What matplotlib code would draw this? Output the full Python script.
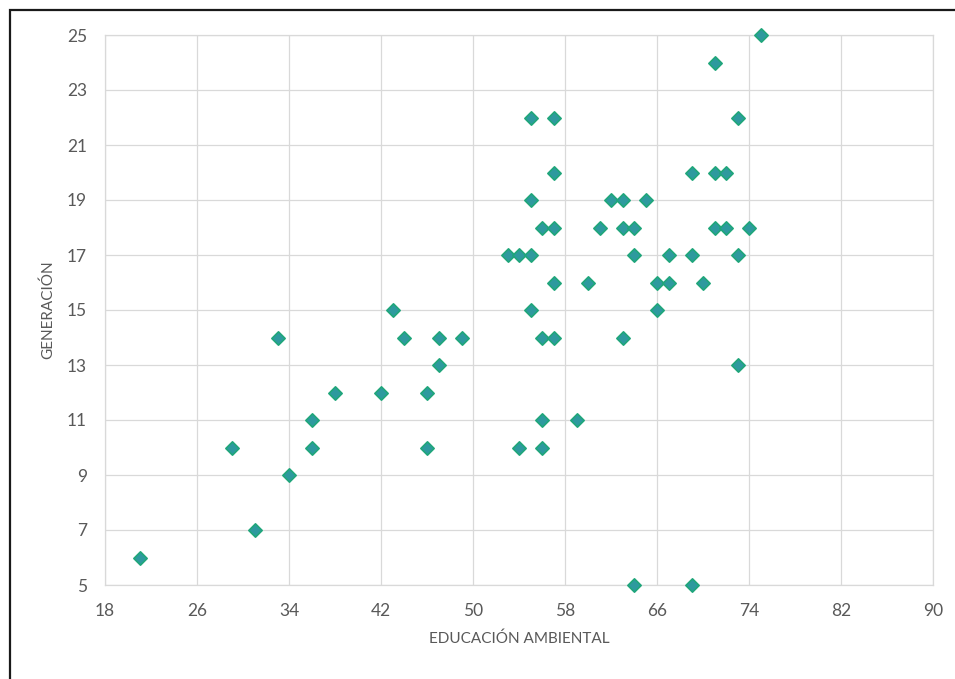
import matplotlib
matplotlib.use("Agg")
import matplotlib.pyplot as plt
from matplotlib.patches import Rectangle

# EDUCACIÓN AMBIENTAL (x) vs GENERACIÓN (y)
educacion = [75, 71, 55, 57, 73, 57, 69, 71, 72, 55, 62, 63, 65,
             56, 57, 61, 63, 64, 71, 72, 74, 53, 54, 55, 64, 67, 69, 73,
             57, 60, 66, 67, 70, 43, 55, 66,
             33, 44, 47, 49, 56, 57, 63, 47, 73, 38, 42, 46,
             36, 56, 59, 29, 36, 46, 54, 56, 34, 31, 21, 64, 69]
generacion = [25, 24, 22, 22, 22, 20, 20, 20, 20, 19, 19, 19, 19,
              18, 18, 18, 18, 18, 18, 18, 18, 17, 17, 17, 17, 17, 17, 17,
              16, 16, 16, 16, 16, 15, 15, 15,
              14, 14, 14, 14, 14, 14, 14, 13, 13, 12, 12, 12,
              11, 11, 11, 10, 10, 10, 10, 10, 9, 7, 6, 5, 5]

x_ticks = [18, 26, 34, 42, 50, 58, 66, 74, 82, 90]
y_ticks = [5, 7, 9, 11, 13, 15, 17, 19, 21, 23, 25]

plt.rcParams['font.family'] = ['Lato', 'DejaVu Sans']
grey_txt = '#595959'
grid_col = '#d9d9d9'

fig = plt.figure(figsize=(9.55, 6.79), dpi=100)
ax = fig.add_axes([105 / 955, 1 - 585 / 679, 828 / 955, 550 / 679])

ax.scatter(educacion, generacion, marker='D', s=46, facecolor='#2e9a9e',
           edgecolor='#1fa67a', linewidth=1.2, zorder=3, clip_on=False)

ax.set_xlim(18, 90)
ax.set_ylim(5, 25)
ax.set_xticks(x_ticks)
ax.set_yticks(y_ticks)
ax.grid(True, color=grid_col, linewidth=0.9)
ax.set_axisbelow(True)
for sp in ax.spines.values():
    sp.set_color(grid_col)
    sp.set_linewidth(0.9)
ax.tick_params(axis='both', length=0, labelsize=12.5, labelcolor=grey_txt)
ax.tick_params(axis='x', pad=13)
ax.tick_params(axis='y', pad=13)

ax.set_xlabel('EDUCACIÓN AMBIENTAL', fontsize=11, color=grey_txt, labelpad=9)
ax.set_ylabel('GENERACIÓN', fontsize=11, color=grey_txt, labelpad=8)

# black frame around the chart (right/bottom fall outside the image)
frame = Rectangle((9.5 / 955, -0.1), 1.2, 1.1 - 10 / 679, transform=fig.transFigure,
                  fill=False, edgecolor='#1a1a1a', linewidth=1.6, clip_on=False)
fig.patches.append(frame)

fig.savefig('out.png', dpi=100)
